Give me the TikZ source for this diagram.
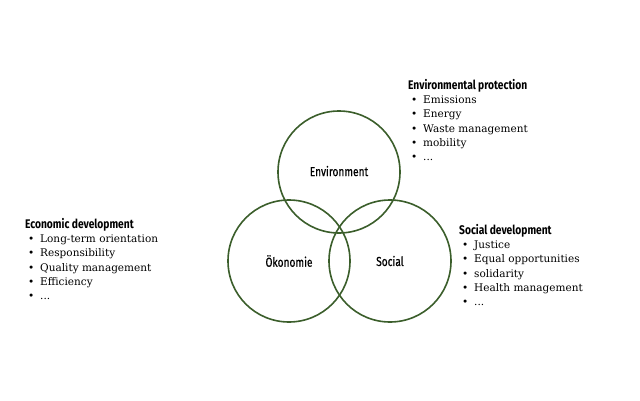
\documentclass[tikz,border=0pt]{standalone}
\usepackage{fontspec}
\setmainfont{DejaVu Serif}
\newfontfamily\headfont[FakeStretch=0.82]{Fira Sans}
\newfontfamily\labelfont[FakeStretch=0.78, FakeBold=0.6]{Fira Sans}
\definecolor{circgreen}{HTML}{3B5E2B}
\newcommand{\itm}[1]{\hspace*{3pt}\makebox[12pt][l]{\textbullet}#1}
\newcommand{\hdr}[1]{{\headfont\bfseries\fontsize{12.5}{14.3}\selectfont #1}}
\tikzset{
  pillar/.style={draw=circgreen, line width=1.6pt, circle, minimum size=122pt, inner sep=0pt, font=\labelfont\fontsize{13}{15}\selectfont},
  aspect/.style={anchor=north west, align=left, inner sep=0pt, font=\fontsize{10.5}{14.3}\selectfont}
}
\begin{document}
\begin{tikzpicture}[x=1pt, y=1pt]
\useasboundingbox (0,0) rectangle (640,400);

\node[pillar] (env) at (339,228) {\raisebox{2pt}{Environment}};
\node[pillar] (oek) at (289,139) {Ökonomie};
\node[pillar] (soc) at (390,139) {Social};

\node[aspect] (envlist) at (408,321) {\hdr{Environmental protection}\\
\itm{Emissions}\\ \itm{Energy}\\ \itm{Waste management}\\ \itm{mobility}\\ \itm{...}};

\node[aspect] (oeklist) at (25,182) {\hdr{Economic development}\\
\itm{Long-term orientation}\\ \itm{Responsibility}\\ \itm{Quality management}\\ \itm{Efficiency}\\ \itm{...}};

\node[aspect] (soclist) at (459,176) {\hdr{Social development}\\
\itm{Justice}\\ \itm{Equal opportunities}\\ \itm{solidarity}\\ \itm{Health management}\\ \itm{...}};

\end{tikzpicture}
\end{document}
